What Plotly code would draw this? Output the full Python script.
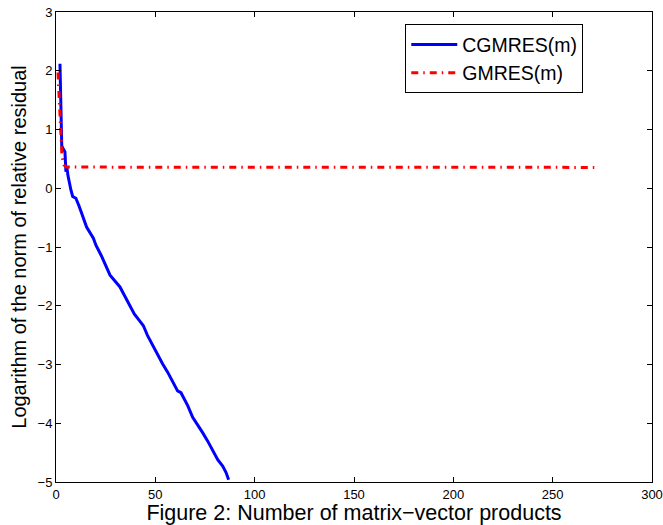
import plotly.graph_objects as go

# CGMRES(m) residual history (log10 of relative residual norm)
cg_x = [2.0, 2.9, 3.5, 4.5, 5.0, 5.5, 6.0, 7.0, 7.5, 8.4, 10.0, 11.7, 13.4, 15.4, 18.8, 20.1,
        22.7, 25.2, 27.2, 30.2, 32.2, 33.6, 34.9, 36.1, 37.8, 39.4, 41.9, 44.0, 46.1, 48.7,
        51.2, 53.7, 56.2, 58.7, 61.2, 62.9, 64.6, 66.3, 68.8, 71.3, 73.8, 76.3, 78.9, 81.4,
        83.9, 85.6, 86.9]
cg_y = [2.12, 0.72, 0.68, 0.62, 0.28, 0.35, 0.22, 0.03, -0.03, -0.14, -0.17, -0.31, -0.46,
        -0.66, -0.85, -0.97, -1.14, -1.34, -1.48, -1.60, -1.68, -1.77, -1.85, -1.94, -2.02,
        -2.14, -2.25, -2.34, -2.51, -2.68, -2.85, -2.99, -3.13, -3.28, -3.45, -3.48, -3.59,
        -3.70, -3.90, -4.02, -4.16, -4.30, -4.47, -4.62, -4.73, -4.84, -4.96]

# GMRES(m) residual history
gm_x = [1.0, 2.0, 3.0, 4.0, 5.0, 271.0]
gm_y = [1.97, 1.20, 0.55, 0.40, 0.36, 0.355]

x_ticks = [0, 50, 100, 150, 200, 250, 300]
y_ticks = [-5, -4, -3, -2, -1, 0, 1, 2, 3]

FONT = "Liberation Sans, Arial, sans-serif"

fig = go.Figure()
fig.add_trace(go.Scatter(x=cg_x, y=cg_y, mode="lines", name="CGMRES(m)",
                         line=dict(color="#0000ff", width=3)))
fig.add_trace(go.Scatter(x=gm_x, y=gm_y, mode="lines", name="GMRES(m)",
                         line=dict(color="#ff0000", width=3, dash="7px,5px,1.5px,5px")))

axis_common = dict(showline=True, linecolor="black", linewidth=1, mirror="ticks",
                   ticks="inside", ticklen=5, tickcolor="black", showgrid=False,
                   zeroline=False, automargin=False,
                   tickfont=dict(family=FONT, size=13, color="black"))

fig.update_layout(
    width=663, height=525,
    margin=dict(l=56, r=11, t=12, b=43),
    paper_bgcolor="white", plot_bgcolor="white",
    font=dict(family=FONT, color="black"),
    xaxis=dict(range=[0, 300], tickvals=x_ticks,
               title=dict(text="Figure 2: Number of matrix−vector products",
                          font=dict(family=FONT, size=21.5), standoff=0),
               **axis_common),
    yaxis=dict(range=[-5, 3], tickvals=y_ticks,
               title=dict(text="Logarithm of the norm of relative residual",
                          font=dict(family=FONT, size=20), standoff=5),
               **axis_common),
    legend=dict(x=0.586, y=0.974, xanchor="left", yanchor="top",
                bgcolor="white", bordercolor="black", borderwidth=1,
                font=dict(family=FONT, size=19.5), tracegroupgap=0, itemwidth=46),
    showlegend=True,
)

fig.write_html("out.html",
               config={"displayModeBar": False},
               post_script="document.body.style.margin='0';document.body.style.padding='0';")
